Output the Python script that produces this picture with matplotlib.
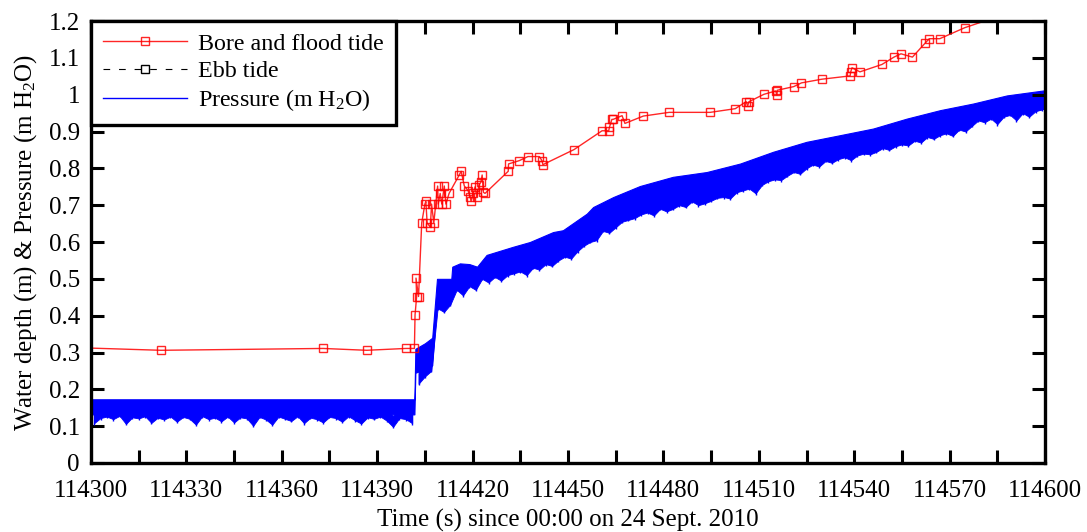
import numpy as np
import matplotlib
matplotlib.use("Agg")
import matplotlib.pyplot as plt
from matplotlib.ticker import MultipleLocator, FuncFormatter

plt.rcParams['font.family'] = ['Liberation Serif', 'DejaVu Serif']
plt.rcParams['mathtext.fontset'] = 'custom'
plt.rcParams['mathtext.rm'] = 'Liberation Serif'
plt.rcParams['mathtext.it'] = 'Liberation Serif:italic'
plt.rcParams['font.size'] = 18

# Bore and flood tide water depth (m)
bore_t = [114296, 114322.0, 114373.0, 114386.7, 114399.0, 114401.7, 114401.9, 114402.4,
          114402.2, 114403.0, 114404.0, 114405.0, 114405.3, 114405.7, 114406.7, 114407.1,
          114407.8, 114409.0, 114409.2, 114409.8, 114410.3, 114411.1, 114411.6, 114412.6,
          114415.8, 114416.4, 114417.4, 114418.6, 114419.3, 114419.5, 114420.2, 114420.8,
          114421.3, 114422.0, 114422.6, 114423.0, 114423.4, 114423.9, 114431.2, 114431.3,
          114434.7, 114437.4, 114441.0, 114441.8, 114442.1, 114451.9, 114460.7, 114462.8,
          114463.0, 114463.8, 114464.2, 114467.0, 114467.9, 114473.7, 114481.8, 114494.7,
          114502.6, 114506.0, 114506.5, 114506.9, 114511.6, 114515.3, 114515.7, 114515.8,
          114521.0, 114523.4, 114529.8, 114538.7, 114538.9, 114539.3, 114541.8, 114548.7,
          114552.5, 114554.7, 114558.3, 114562.4, 114563.6, 114566.9, 114574.8, 114590.0]
bore_h = [0.313, 0.306, 0.311, 0.306, 0.311, 0.311, 0.402, 0.452,
          0.502, 0.452, 0.652, 0.703, 0.710, 0.652, 0.640, 0.703,
          0.652, 0.752, 0.703, 0.732, 0.703, 0.752, 0.703, 0.732,
          0.782, 0.792, 0.752, 0.739, 0.721, 0.710, 0.732, 0.750,
          0.723, 0.755, 0.762, 0.782, 0.735, 0.732, 0.792, 0.812,
          0.821, 0.832, 0.832, 0.821, 0.810, 0.851, 0.902, 0.902,
          0.911, 0.933, 0.933, 0.943, 0.922, 0.942, 0.952, 0.952,
          0.962, 0.981, 0.970, 0.981, 1.001, 1.010, 0.999, 1.012,
          1.022, 1.032, 1.042, 1.051, 1.062, 1.073, 1.062, 1.082,
          1.102, 1.111, 1.102, 1.141, 1.152, 1.152, 1.182, 1.226]

# Ebb tide: no samples in this time window
ebb_t = []
ebb_h = []

# Pressure signal (m H2O): dense band of the trace (upper edge / lower edge)
pres_t = [114300, 114401.7, 114402.0, 114405.0, 114407.3, 114408.8, 114413.3, 114413.6,
          114416.0, 114419.0, 114421.4, 114424.4, 114432.7, 114438.0, 114445.3, 114448.4,
          114455.9, 114457.9, 114464.2, 114472.6, 114483.0, 114493.6, 114504.1, 114514.5,
          114525.0, 114535.5, 114545.9, 114556.5, 114567.0, 114577.4, 114588.0, 114600]
pres_hi = [0.173, 0.173, 0.310, 0.325, 0.340, 0.500, 0.500, 0.533,
           0.542, 0.540, 0.533, 0.565, 0.587, 0.600, 0.627, 0.632,
           0.677, 0.695, 0.722, 0.752, 0.777, 0.790, 0.813, 0.845,
           0.872, 0.890, 0.908, 0.935, 0.958, 0.976, 0.998, 1.012]
pres_lo = [0.132, 0.132, 0.245, 0.255, 0.265, 0.445, 0.445, 0.485,
           0.495, 0.495, 0.490, 0.520, 0.540, 0.555, 0.580, 0.585,
           0.628, 0.645, 0.675, 0.705, 0.728, 0.742, 0.762, 0.792,
           0.822, 0.842, 0.858, 0.882, 0.908, 0.928, 0.948, 0.962]

# downward spikes of the pressure trace (minima), one every 2 s
spike_t = np.arange(114301, 114600, 2)
spike_min = [0.108, 0.122, 0.126, 0.119, 0.128, 0.106, 0.124, 0.121, 0.127, 0.109,
             0.123, 0.118, 0.126, 0.112, 0.125, 0.120, 0.104, 0.127, 0.119, 0.123,
             0.113, 0.126, 0.110, 0.124, 0.121, 0.101, 0.125, 0.118, 0.104, 0.126,
             0.120, 0.114, 0.127, 0.108, 0.123, 0.119, 0.110, 0.125, 0.122, 0.112,
             0.127, 0.116, 0.107, 0.124, 0.120, 0.126, 0.115, 0.098, 0.122, 0.119,
             0.108,
             0.215, 0.235, 0.25, 0.42, 0.41, 0.43, 0.47, 0.455, 0.48, 0.47,
             0.50, 0.49, 0.505, 0.495, 0.51, 0.515, 0.52, 0.51, 0.53, 0.525,
             0.54, 0.535, 0.55, 0.56, 0.555, 0.575, 0.59, 0.60, 0.605, 0.63,
             0.625, 0.64, 0.655, 0.66, 0.665, 0.675, 0.68, 0.672, 0.69, 0.683,
             0.69, 0.70, 0.695, 0.71, 0.70, 0.705, 0.712, 0.72, 0.722, 0.718,
             0.735, 0.74, 0.745, 0.732, 0.755, 0.765, 0.77, 0.768, 0.78, 0.79,
             0.785, 0.80, 0.81, 0.805, 0.82, 0.815, 0.825, 0.83, 0.822, 0.835,
             0.84, 0.838, 0.845, 0.855, 0.85, 0.86, 0.865, 0.862, 0.875, 0.87,
             0.885, 0.88, 0.89, 0.895, 0.888, 0.905, 0.90, 0.915, 0.93, 0.925,
             0.935, 0.92, 0.94, 0.945, 0.93, 0.95, 0.94, 0.955, 0.96]
spike_min = np.array(spike_min)

blue = '#0000ff'

fig = plt.figure(figsize=(10.87, 5.32), dpi=100)
ax = fig.add_axes([0.0837, 0.1297, 0.8777, 0.8308])

# pressure: dense band, ragged lower edge and thin spikes
ax.fill_between(pres_t, pres_lo, pres_hi, color=blue, linewidth=0.8, edgecolor=blue)
bore_split = 51
ax.fill_between(spike_t[:bore_split], spike_min[:bore_split], spike_min[:bore_split] + 0.03,
                color=blue, linewidth=0.6, edgecolor=blue)
ax.fill_between(spike_t[bore_split:], spike_min[bore_split:], spike_min[bore_split:] + 0.045,
                color=blue, linewidth=0.6, edgecolor=blue)
ax.vlines(spike_t, spike_min - 0.004, spike_min + 0.03, color=blue, linewidth=1.0)
ax.plot([], [], color=blue, linewidth=1.0, label='Pressure (m H$_2$O)')

# bore / flood tide and ebb tide
ax.plot(bore_t, bore_h, color='red', linewidth=1.0, marker='s', markersize=5.5,
        markerfacecolor='none', markeredgewidth=1.0, alpha=0.85,
        label='Bore and flood tide')
ax.plot(ebb_t, ebb_h, color='black', linewidth=0.8, linestyle=(0, (6, 8)), marker='s',
        markersize=5.5, markerfacecolor='none', markeredgewidth=1.0, label='Ebb tide')

ax.set_xlim(114300, 114600)
ax.set_ylim(0, 1.2)

ax.xaxis.set_major_locator(MultipleLocator(30))
ax.xaxis.set_minor_locator(MultipleLocator(15))
ax.yaxis.set_major_locator(MultipleLocator(0.1))
ax.yaxis.set_major_formatter(FuncFormatter(lambda v, p: '0' if abs(v) < 1e-9 else ('%g' % round(v, 1))))
ax.xaxis.set_major_formatter(FuncFormatter(lambda v, p: '%d' % round(v)))

ax.tick_params(which='both', direction='in', top=True, right=True, length=9.5, width=2.2)
ax.tick_params(axis='x', pad=12)
ax.tick_params(axis='y', pad=8)
for s in ax.spines.values():
    s.set_linewidth(2.4)

ax.set_xlabel('Time (s) since 00:00 on 24 Sept. 2010', labelpad=5)
ax.set_ylabel('Water depth (m) & Pressure (m H$_2$O)', labelpad=7)

handles, labels = ax.get_legend_handles_labels()
order = [1, 2, 0]
leg = ax.legend([handles[i] for i in order], [labels[i] for i in order],
                loc='upper left', borderaxespad=0, fancybox=False, framealpha=1,
                edgecolor='black', handlelength=3.5, handletextpad=0.45,
                labelspacing=0.22, borderpad=0.5, numpoints=1, fontsize=17.3)
leg.get_frame().set_linewidth(2.4)

fig.savefig('out.png', dpi=100)
